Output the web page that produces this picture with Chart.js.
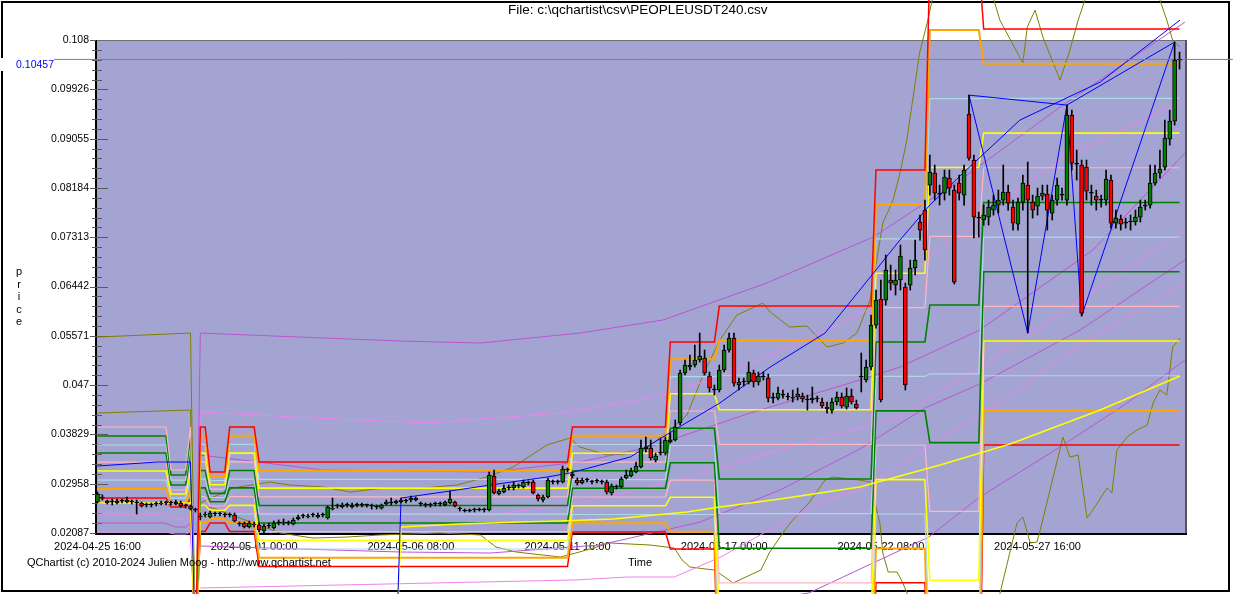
<!DOCTYPE html>
<html>
<head>
<meta charset="utf-8">
<script src="https://cdn.jsdelivr.net/npm/chart.js@4.4.1/dist/chart.umd.min.js"></script>
<style>
html,body{margin:0;padding:0;background:#fff;}
#wrap{position:relative;width:1233px;height:594px;overflow:hidden;background:#fff;}
#c{position:absolute;left:0;top:0;}
.t{position:absolute;font-family:"Liberation Sans",Arial,sans-serif;color:#000;white-space:nowrap;line-height:1;}
</style>
</head>
<body>
<div id="wrap">
<canvas id="c" width="1233" height="594"></canvas>
<div class="t" style="left:508px;top:3px;font-size:13.5px;">File: c:\qchartist\csv\PEOPLEUSDT240.csv</div>
<div class="t" style="left:0px;top:58px;width:54px;height:13px;background:#fff;color:#0000FF;font-size:10.5px;text-align:right;line-height:13px;">0.10457</div>
<div class="t" style="left:14px;top:265px;width:10px;text-align:center;font-size:11px;line-height:12.5px;">p<br>r<br>i<br>c<br>e</div>
<div class="t" style="left:628px;top:557px;font-size:11px;">Time</div>
<div class="t" style="left:27px;top:557px;font-size:11px;">QChartist (c) 2010-2024 Julien Moog - http://www.qchartist.net</div>
</div>
<script>
// ---------------- DATA ----------------
const X_TICK_BARS = [0, 32, 64, 96, 128, 160, 192];
const X_TICK_LABELS = ["2024-04-25 16:00","2024-05-01 00:00","2024-05-06 08:00","2024-05-11 16:00","2024-05-17 00:00","2024-05-22 08:00","2024-05-27 16:00"];
const Y_TICKS = [0.02087,0.02958,0.03829,0.047,0.05571,0.06442,0.07313,0.08184,0.09055,0.09926,0.108];
const Y_TICK_LABELS = ["0.02087","0.02958","0.03829","0.047","0.05571","0.06442","0.07313","0.08184","0.09055","0.09926","0.108"];
const LAST_PRICE = 0.10457;

const OPEN = [.02635,.02705,.02652,.02635,.02617,.02652,.02635,.02635,.02617,.02617,.02582,.02582,.02599,.02599,.02617,.02617,.02599,.02617,.02564,.02564,
.02493,.02387,.02405,.02370,.02422,.02422,.02405,.02405,.02405,.02246,.02264,.02193,.02246,.02229,.02123,.02211,.02176,.02264,.02264,.02264,
.02246,.02334,.02387,.02370,.02405,.02370,.02405,.02352,.02511,.02564,.02546,.02582,.02546,.02582,.02582,.02582,.02564,.02546,.02528,.02599,
.02617,.02617,.02635,.02652,.02670,.02670,.02599,.02582,.02582,.02599,.02599,.02582,.02617,.02635,.02511,.02476,.02476,.02493,.02493,.02493,
.02493,.03094,.02776,.02812,.02882,.02882,.02917,.02900,.02970,.02988,.02758,.02670,.02723,.02988,.02988,.02988,.03200,.03129,.03024,.02970,
.03024,.02988,.03006,.02988,.02988,.02794,.02900,.02900,.03059,.03094,.03165,.03253,.03571,.03589,.03377,.03500,.03500,.03695,.03730,.04031,
.04914,.05020,.05056,.05144,.05179,.04861,.04614,.04614,.04967,.05321,.05533,.04702,.04755,.04755,.04914,.04755,.04844,.04826,.04472,.04472,
.04525,.04490,.04472,.04490,.04508,.04437,.04437,.04455,.04402,.04313,.04260,.04402,.04490,.04313,.04508,.04366,.04844,.04791,.05020,.05762,
.06221,.06204,.06558,.06469,.06558,.06434,.06469,.06770,.07583,.07794,.08236,.08448,.08077,.08095,.08360,.08148,.08271,.08059,.09491,.08678,
.07653,.07618,.07671,.07794,.07883,.07971,.08112,.07847,.07547,.07936,.08236,.07936,.07865,.08042,.08077,.07741,.07971,.08059,.07971,.09473,
.08607,.08590,.08554,.08095,.08042,.07971,.07971,.08325,.07564,.07635,.07564,.07583,.07583,.07671,.07865,.07883,.08271,.08448,.08554,.09049,
.09367,.10445];
const HIGH = [.02812,.02758,.02670,.02688,.02688,.02688,.02723,.02670,.02670,.02635,.02617,.02617,.02635,.02652,.02652,.02652,.02670,.02652,.02599,.02582,
.02528,.02440,.02458,.02476,.02458,.02458,.02440,.02440,.02440,.02281,.02281,.02299,.02281,.02264,.02246,.02264,.02299,.02317,.02334,.02299,
.02352,.02405,.02422,.02422,.02440,.02440,.02440,.02564,.02705,.02599,.02617,.02617,.02617,.02617,.02617,.02599,.02599,.02582,.02599,.02670,
.02705,.02670,.02705,.02688,.02741,.02723,.02635,.02617,.02617,.02635,.02635,.02652,.02829,.02652,.02546,.02511,.02511,.02528,.02528,.02528,
.03165,.03200,.02864,.02935,.02935,.02988,.02953,.03024,.03006,.03024,.02776,.02758,.03059,.03024,.03024,.03271,.03236,.03165,.03059,.03059,
.03059,.03024,.03041,.03024,.03024,.02953,.02935,.03077,.03200,.03236,.03342,.03730,.03783,.03730,.03500,.03748,.03783,.03854,.04084,.04967,
.05144,.05232,.05409,.05621,.05321,.04932,.04702,.05056,.05409,.05621,.05621,.04826,.04826,.05109,.04967,.04932,.04932,.04897,.04561,.04667,
.04614,.04561,.04614,.04649,.04561,.04525,.04667,.04508,.04472,.04402,.04472,.04579,.04561,.04649,.04631,.04437,.05268,.05144,.05939,.06381,
.06558,.07000,.06823,.06734,.07176,.06504,.06911,.07264,.07706,.07971,.08766,.08590,.08236,.08501,.08501,.08236,.08413,.08590,.09826,.08766,
.07759,.07883,.07971,.08059,.08148,.08590,.08236,.07971,.08006,.08413,.08643,.08059,.08183,.08236,.08236,.08059,.08360,.08183,.09650,.09561,
.08855,.08678,.08678,.08236,.08148,.08059,.08501,.08413,.07794,.07706,.07653,.07706,.07794,.07971,.07971,.08590,.08590,.08855,.09385,.09561,
.10763,.10586];
const LOW = [.02617,.02670,.02599,.02582,.02599,.02617,.02617,.02599,.02422,.02546,.02546,.02546,.02564,.02582,.02582,.02582,.02582,.02546,.02528,.02493,
.02458,.02317,.02370,.02352,.02387,.02387,.02370,.02370,.02281,.02211,.02176,.02176,.02193,.02105,.01999,.02176,.02158,.02229,.02229,.02229,
.02229,.02317,.02352,.02352,.02370,.02352,.02370,.02334,.02493,.02528,.02528,.02546,.02528,.02546,.02546,.02546,.02511,.02511,.02511,.02582,
.02582,.02599,.02617,.02617,.02635,.02652,.02564,.02546,.02546,.02564,.02564,.02564,.02599,.02546,.02476,.02458,.02458,.02458,.02476,.02458,
.02476,.02776,.02758,.02794,.02847,.02847,.02882,.02882,.02935,.02776,.02652,.02635,.02705,.02953,.02953,.02970,.03165,.03059,.02935,.02953,
.02988,.02953,.02970,.02953,.02776,.02758,.02864,.02882,.03041,.03077,.03147,.03236,.03518,.03377,.03342,.03465,.03465,.03677,.03713,.03996,
.04879,.04967,.05020,.05109,.04879,.04579,.04525,.04579,.04932,.05285,.04684,.04614,.04684,.04720,.04667,.04702,.04791,.04402,.04384,.04437,
.04472,.04437,.04402,.04437,.04402,.04260,.04384,.04402,.04296,.04207,.04207,.04349,.04296,.04278,.04366,.04278,.04579,.04755,.04967,.05709,
.04402,.06116,.06381,.06292,.06381,.04614,.06381,.06646,.07264,.06911,.08059,.07971,.07883,.07971,.08059,.06487,.07971,.07883,.08678,.07300,
.07318,.07529,.07529,.07706,.07741,.07883,.07794,.07441,.07441,.07794,.05621,.07653,.07706,.07971,.07441,.07618,.07883,.07971,.07883,.08501,
.08325,.05921,.07971,.07883,.07794,.07847,.07883,.07476,.07476,.07441,.07476,.07441,.07529,.07583,.07794,.07830,.08236,.08360,.08501,.08943,
.09297,.10286];
const CLOSE = [.02776,.02723,.02617,.02635,.02652,.02652,.02670,.02635,.02617,.02564,.02582,.02582,.02599,.02617,.02617,.02617,.02635,.02564,.02564,.02511,
.02493,.02370,.02422,.02440,.02422,.02422,.02405,.02405,.02299,.02246,.02193,.02264,.02229,.02140,.02211,.02211,.02264,.02264,.02281,.02264,
.02317,.02370,.02387,.02387,.02405,.02405,.02405,.02546,.02528,.02564,.02582,.02582,.02582,.02582,.02582,.02582,.02564,.02546,.02582,.02635,
.02617,.02652,.02670,.02652,.02705,.02705,.02599,.02582,.02582,.02599,.02599,.02635,.02688,.02564,.02511,.02476,.02476,.02493,.02493,.02493,
.03112,.02794,.02829,.02882,.02882,.02935,.02917,.02988,.02970,.02794,.02688,.02723,.03024,.02988,.02988,.03218,.03200,.03094,.02970,.03024,
.03024,.02988,.03006,.02988,.02812,.02917,.02900,.03041,.03112,.03182,.03271,.03589,.03607,.03412,.03447,.03500,.03730,.03730,.03960,.04914,
.05056,.05056,.05144,.05215,.04914,.04649,.04614,.04967,.05321,.05533,.04737,.04755,.04755,.04932,.04755,.04861,.04844,.04472,.04472,.04561,
.04525,.04490,.04490,.04543,.04455,.04437,.04472,.04455,.04331,.04278,.04402,.04490,.04331,.04508,.04402,.04296,.04844,.05020,.05762,.06204,
.04437,.06734,.06504,.06558,.06982,.04702,.06770,.06911,.07441,.07088,.08466,.08095,.08077,.08378,.08183,.06522,.08095,.08501,.08713,.07671,
.07653,.07706,.07847,.07883,.07971,.08112,.07918,.07564,.07936,.08271,.07971,.07794,.08042,.08095,.07794,.07971,.08236,.08059,.09473,.08625,
.08607,.05974,.08130,.08095,.07971,.07971,.08342,.07564,.07653,.07547,.07564,.07583,.07671,.07847,.07865,.08271,.08448,.08519,.09067,.09367,
.10445,.10457];

// pivot ladder: period start/end bars and level values per period
const PERIOD_START = [0,15,19,20,21,23,27,33,97,117,127,159,170,181];
const PERIOD_END   = [14,18,19,20,22,26,32,96,116,126,158,169,180,221];
const PIVOT_L0  = [null,null,null,0,.03960,.03165,.03960,.03341,.03960,.05462,.06098,.08501,.12194,.10993];
const PIVOT_L1  = [null,null,null,0,.03806,.03089,.03806,.03188,.03805,.05157,.05487,.07893,.10978,.10379];
const PIVOT_L2  = [null,null,null,0,.03652,.03015,.03652,.03034,.03651,.04852,.04875,.07285,.09763,.09768];
const PIVOT_L3  = [null,null,null,0,.03499,.02939,.03499,.02880,.03496,.04547,.04264,.06678,.08547,.09155];
const PIVOT_L4  = [.03960,.03200,.03960,0,.03345,.02864,.03345,.02727,.03341,.04243,.03652,.06070,.07331,.08542];
const PIVOT_L5  = [.03801,.03112,.03801,0,.03191,.02788,.03191,.02573,.03187,.03938,.03041,.05462,.06116,.07929];
const PIVOT_L6  = [.03642,.03023,.03642,0,.03038,.02714,.03038,.02419,.03032,.03633,.02430,.04854,.04900,.07317];
const PIVOT_L7  = [.03500,.02935,.03500,0,.02884,.02638,.02884,.02265,.02878,.03328,.01818,.04246,.03684,.06704];
const PIVOT_L8  = [.03341,.02847,.03341,0,.02730,.02564,.02730,.02112,.02723,.03023,.01207,.03638,.02469,.06091];
const PIVOT_L9  = [.03182,.02776,.03182,0,.02576,.02488,.02576,.01958,.02568,.02719,.00596,.03030,.01253,.05480];
const PIVOT_L10 = [.03023,.02705,.03023,0,.02423,.02414,.02423,.01804,.02414,.02414,-.00016,.02423,.00037,.04866];
const PIVOT_L11 = [.02864,.02635,.02864,0,.02269,.02338,.02269,.01650,.02259,.02109,-.00627,.01815,-.01179,.04253];
const PIVOT_L12 = [.02705,.02546,.02705,0,.02115,.02264,.02115,.01497,.02105,.01804,-.01239,.01207,-.02394,.03642];

// moving averages
const BLUE_MA_X = [0,12.2,19,20,61,62,72.0,80.2,91.8,96.5,108.8,118.8,127.1,137.4,148.6,155.7,163.9,170.0,176.8,188.4,204.8,221.1];
const BLUE_MA_Y = [.03271,.03341,.03341,0,0,.02705,.02829,.02935,.03076,.03147,.03430,.03960,.04384,.05020,.05621,.06381,.07264,.07883,.08448,.09385,.10056,.11152];
const YELLOW_MA_X = [0,19,20,61,62,74.0,86.3,94.5,105.3,120.4,127.1,139.4,155.7,172.1,186.4,204.8,221.1];
const YELLOW_MA_Y = [.02617,.02617,0,0,.02193,.02246,.02281,.02299,.02334,.02458,.02546,.02688,.02900,.03289,.03660,.04260,.04861];

// XABCD pattern swing points
const SWING_X = [178,190,198,201,220];
const SWING_Y = [.09826,.05621,.09650,.05921,.10763];
const SWING_XBD_X = [178,198,220];
const SWING_XBD_Y = [.09826,.09650,.10763];

// bollinger-like bands
const BB_UP_X = [0,19,20,21,27.7,35.2,39.3,46.1,51.6,58.3,66.5,73.4,79.5,84.9,91.8,96.5,98.5,104.1,110.8,113.5,116.9,120.4,123.7,127.1,130.6,135.9,137.4,141.4,144.9,149.0,152.3,155.1,157.8,160.4,162.5,163.9,165.3,167.9,169.6,173.1,181.3,184.3,189.0,189.9,191.5,193.1,196.6,198.6,200.3,203.7,214.9,218.4,219.6,221.1];
const BB_UP_Y = [.05550,.05621,0,.02617,.02882,.02988,.02935,.02900,.02811,.02882,.02882,.02935,.03076,.03253,.03642,.03766,.03607,.03465,.03500,.03677,.03907,.04172,.04879,.05497,.05939,.06151,.05992,.05727,.05745,.05374,.05444,.05621,.06204,.07565,.07971,.08448,.09031,.10569,.11152,.12565,.12035,.11152,.10392,.11028,.11328,.10851,.10091,.10621,.11152,.12035,.12035,.11152,.10798,.10675];
const BB_LO_X = [0,19,20,21,23.6,31.8,37.3,44.0,51.0,57.7,69.9,78.2,81.4,85.5,94.5,97.7,104.7,112.8,117.8,119.4,121.0,125.9,127.5,129.8,135.5,137.2,140.4,142.0,145.3,148.6,150.2,155.7,157.8,158.8,159.8,160.4,161.5,163.3,164.5,165.9,170.0,179.2,184.3,187.8,189.0,190.5,191.9,192.9,195.2,197.2,198.6,200.3,202.1,203.3,206.2,207.2,208.2,210.3,212.3,214.4,215.6,217.0,218.4,219.6,221.1];
const BB_LO_Y = [.04207,.04260,0,.02582,.02528,.02264,.02087,.01998,.02016,.02052,.02087,.02052,.01839,.01751,.01663,.01733,.01910,.01875,.01822,.01610,.01486,.01433,.01345,.01203,.01433,.01733,.02140,.02317,.02617,.03023,.03076,.03023,.02988,.02617,.02264,.01733,.01398,.01398,.01203,.00903,-.00511,-.00511,.01009,.02264,.02370,.01910,.01928,.02264,.03076,.03783,.03430,.03465,.02352,.02493,.02882,.02794,.03554,.03783,.03907,.03995,.04384,.04614,.04525,.05374,.05532];

// envelopes
const ENV1_X = [0,13.8,15.8,18.1,19,20,21,41.3,61.9,78.2,98.5,115.5,136.7,158.4,176.2,196.6,222.1];
const ENV1_Y = [.02264,.02264,.02193,.02193,.02264,0,.05621,.05550,.05480,.05444,.05621,.05851,.06505,.07317,.08325,.09614,.11116];
const ENV2_X = [0,13.8,15.8,18.1,19,20,21,44.0,67.9,94.5,112.8,123.1,136.7,150.2,158.4,169.4,182.9,196.6,210.3,222.1];
const ENV2_Y = [.02423,.02423,.02334,.02334,.02423,0,.04225,.04119,.04031,.04207,.04472,.04737,.05197,.05727,.06080,.06911,.07847,.08678,.09261,.09738];
const ENV3_X = [21,32.8,46.1,80.2,98.5,112.8,133.3,153.7,163.9,180.2,203.3,222.1];
const ENV3_Y = [.03465,.03341,.03200,.03165,.03341,.03607,.04207,.04737,.05020,.05674,.07088,.08801];
const ENV4_X = [0,13.8,15.8,18.1,19,20,21,32.8,80.2,98.5,118.8,139.4,163.9,180.2,200.7,222.1];
const ENV4_Y = [.02105,.02105,.02069,.02069,.02105,0,.02582,.02440,.02405,.02617,.03023,.03554,.04137,.05020,.06204,.07441];
const ENV5_X = [21,61.9,80.2,102.6,123.1,139.4,155.7,169.0,180.2,200.7,222.1];
const ENV5_Y = [.01857,.01751,.01733,.01875,.02281,.02847,.03571,.04296,.04720,.05674,.06911];
const ENV6_X = [21,97.7,108.2,117.8,127.3,137.2,148.6,155.7,184.9,200.7,222.1];
const ENV6_Y = [.01115,.01257,.01309,.01309,.01663,.02140,.02670,.02847,.04437,.05409,.06504];
const ENV7_X = [21,102.6,123.1,145.3,158.4,169.8,180.2,196.6,210.3,222.1];
const ENV7_Y = [.00196,.00373,.00726,.01027,.01557,.02016,.02723,.03607,.04384,.05144];

// ---------------- BUILD ----------------
const PIVOT_LEVELS = [PIVOT_L0,PIVOT_L1,PIVOT_L2,PIVOT_L3,PIVOT_L4,PIVOT_L5,PIVOT_L6,PIVOT_L7,PIVOT_L8,PIVOT_L9,PIVOT_L10,PIVOT_L11,PIVOT_L12];
const C_RED='#FF0000', C_ORANGE='#FFA500', C_LBLUE='#ADD8E6', C_YELLOW='#FFFF00', C_PINK='#FFB6C1', C_GREEN='#008000';
const LADDER_STYLE = [[C_RED,1.5],[C_ORANGE,2],[C_LBLUE,1.2],[C_YELLOW,1.6],[C_PINK,1.2],[C_GREEN,1.6],[C_LBLUE,1.2],[C_GREEN,1.6],[C_PINK,1.2],[C_YELLOW,1.6],[C_LBLUE,1.2],[C_ORANGE,2],[C_RED,1.5]];

const pts = (xs, ys) => xs.map((x, i) => ({x, y: ys[i]}));
function ladder(levels){
  const out = [];
  levels.forEach((v, j) => {
    out.push({x: PERIOD_START[j], y: v});
    if (PERIOD_END[j] !== PERIOD_START[j]) out.push({x: PERIOD_END[j], y: v});
  });
  return out;
}
function lineDs(label, data, color, width, order){
  return {type:'line', label, data, borderColor:color, backgroundColor:color, borderWidth:width,
    pointRadius:0, pointHoverRadius:0, tension:0, fill:false, clip:false, spanGaps:false, order};
}

const bars = OPEN.map((_, i) => i);
const bodyColors = bars.map(i => CLOSE[i] > OPEN[i] ? '#008000' : (CLOSE[i] < OPEN[i] ? '#FF0000' : '#000000'));

const datasets = [];
datasets.push({type:'bar', label:'body', data: bars.map(i => ({x:i, y:[Math.min(OPEN[i],CLOSE[i]), Math.max(OPEN[i],CLOSE[i])]})),
  backgroundColor: bodyColors, borderColor:'#000', borderWidth:1, borderSkipped:false, barThickness:4, minBarLength:1, grouped:false, order:0});
datasets.push({type:'bar', label:'wick', data: bars.map(i => ({x:i, y:[LOW[i], HIGH[i]]})),
  backgroundColor:'#000', borderWidth:0, barThickness:1, grouped:false, order:1});
datasets.push(lineDs('last price', [{x:-8.9, y:LAST_PRICE},{x:231.9, y:LAST_PRICE}], '#808080', 1, 2));
datasets.push(lineDs('XABCD', pts(SWING_X, SWING_Y), '#0000FF', 1, 3));
datasets.push(lineDs('XBD', pts(SWING_XBD_X, SWING_XBD_Y), '#0000FF', 1, 3));
datasets.push(lineDs('MA blue', pts(BLUE_MA_X, BLUE_MA_Y), '#0000FF', 1, 4));
datasets.push(lineDs('MA yellow', pts(YELLOW_MA_X, YELLOW_MA_Y), '#FFFF00', 1.5, 5));
PIVOT_LEVELS.forEach((lv, k) => datasets.push(lineDs('pivot '+k, ladder(lv), LADDER_STYLE[k][0], LADDER_STYLE[k][1], 6)));
const C_PURPLE='#BA55D3', C_VIOLET='#EE82EE';
datasets.push(lineDs('env1', pts(ENV1_X, ENV1_Y), C_PURPLE, 1, 7));
datasets.push(lineDs('env2', pts(ENV2_X, ENV2_Y), C_VIOLET, 1, 7));
datasets.push(lineDs('env3', pts(ENV3_X, ENV3_Y), C_PURPLE, 1, 7));
datasets.push(lineDs('env4', pts(ENV4_X, ENV4_Y), C_VIOLET, 1, 7));
datasets.push(lineDs('env5', pts(ENV5_X, ENV5_Y), C_PURPLE, 1, 7));
datasets.push(lineDs('env6', pts(ENV6_X, ENV6_Y), C_VIOLET, 1, 7));
datasets.push(lineDs('env7', pts(ENV7_X, ENV7_Y), C_PURPLE, 1, 7));
datasets.push(lineDs('BB upper', pts(BB_UP_X, BB_UP_Y), '#808000', 1, 8));
datasets.push(lineDs('BB lower', pts(BB_LO_X, BB_LO_Y), '#808000', 1, 8));

const framePlugin = {
  id: 'frame',
  beforeDraw(chart){
    const {ctx, chartArea: a} = chart;
    ctx.save();
    ctx.fillStyle = '#fff';
    ctx.fillRect(0, 0, chart.width, chart.height);
    ctx.strokeStyle = '#000';
    ctx.lineWidth = 2;
    ctx.strokeRect(2, 2, 1227, 589);
    ctx.fillStyle = '#A4A4D2';
    ctx.fillRect(a.left, a.top, a.right - a.left, a.bottom - a.top);
    ctx.restore();
  },
  beforeDatasetsDraw(chart){
    const {ctx, chartArea: a, scales} = chart;
    const y = scales.y;
    ctx.save();
    // borders
    ctx.strokeStyle = '#6e6e6e'; ctx.lineWidth = 1;
    ctx.beginPath(); ctx.moveTo(a.left, a.top + 0.5); ctx.lineTo(a.right + 1, a.top + 0.5); ctx.stroke();
    ctx.strokeStyle = '#555'; ctx.lineWidth = 2;
    ctx.beginPath(); ctx.moveTo(a.right + 1, a.top); ctx.lineTo(a.right + 1, a.bottom + 2); ctx.stroke();
    ctx.strokeStyle = '#000'; ctx.lineWidth = 2;
    ctx.beginPath(); ctx.moveTo(a.left - 1, a.bottom + 1); ctx.lineTo(a.right + 2, a.bottom + 1); ctx.stroke();
    ctx.beginPath(); ctx.moveTo(a.left, a.top); ctx.lineTo(a.left, a.bottom + 2); ctx.stroke();
    // ticks
    ctx.strokeStyle = '#5a5a5a'; ctx.lineWidth = 1;
    for (let k = 0; k < Y_TICKS.length; k++){
      const py = Math.round(y.getPixelForValue(Y_TICKS[k])) + 0.5;
      const inner = (k === 0 || k === Y_TICKS.length - 1) ? a.left : a.left + 12;
      ctx.beginPath(); ctx.moveTo(a.left - 6, py); ctx.lineTo(inner, py); ctx.stroke();
      if (k < Y_TICKS.length - 1){
        const p0 = y.getPixelForValue(Y_TICKS[k]), p1 = y.getPixelForValue(Y_TICKS[k+1]);
        for (let m = 1; m < 5; m++){
          const my = Math.round(p0 + (p1 - p0) * m / 5) + 0.5;
          ctx.beginPath(); ctx.moveTo(a.left - 4, my); ctx.lineTo(a.left + 6, my); ctx.stroke();
        }
      }
    }
    ctx.restore();
  }
};

Chart.defaults.font.family = "'Liberation Sans', Arial, sans-serif";
Chart.defaults.color = '#000';

new Chart(document.getElementById('c'), {
  type: 'line',
  data: { datasets },
  options: {
    responsive: false,
    animation: false,
    devicePixelRatio: 1,
    events: [],
    layout: { padding: { left: 0, right: 48, top: 40, bottom: 41 } },
    plugins: { legend: { display: false }, tooltip: { enabled: false }, title: { display: false } },
    scales: {
      x: {
        type: 'linear', min: -0.306, max: 222.12, offset: false,
        afterFit: s => { s.height = 20; },
        afterBuildTicks: s => { s.ticks = X_TICK_BARS.map(v => ({value: v})); },
        grid: { display: false, drawTicks: false },
        border: { display: false },
        ticks: { autoSkip: false, maxRotation: 0, minRotation: 0, padding: 7, font: { size: 11 }, color: '#000',
          callback: (v) => { const i = X_TICK_BARS.indexOf(v); return i >= 0 ? X_TICK_LABELS[i] : ''; } }
      },
      y: {
        type: 'linear', min: 0.02087, max: 0.108,
        afterFit: s => { s.width = 96; },
        afterBuildTicks: s => { s.ticks = Y_TICKS.map(v => ({value: v})); },
        grid: { display: false, drawTicks: false },
        border: { display: false },
        ticks: { autoSkip: false, padding: 7, font: { size: 10.5 }, color: '#000',
          callback: (v) => { const i = Y_TICKS.indexOf(v); return i >= 0 ? Y_TICK_LABELS[i] : ''; } }
      }
    }
  },
  plugins: [framePlugin]
});
</script>
</body>
</html>
